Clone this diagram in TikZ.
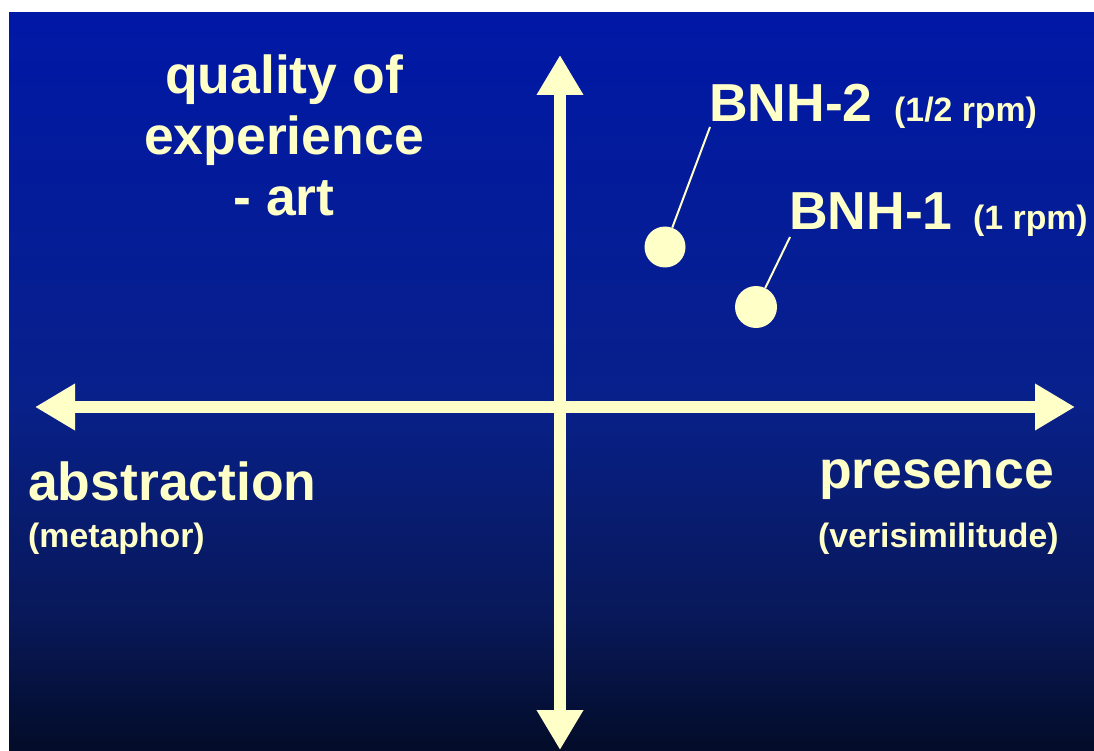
\documentclass[tikz,border=0pt]{standalone}
\usepackage{fontspec}
\setmainfont{Liberation Sans}
\usetikzlibrary{arrows.meta}
\definecolor{cream}{RGB}{255,255,200}
\definecolor{bgtop}{RGB}{0,24,166}
\definecolor{bgmid}{RGB}{8,32,138}
\definecolor{bglow}{RGB}{8,24,88}
\definecolor{bgbot}{RGB}{3,12,40}
\begin{document}
\begin{tikzpicture}[x=1pt,y=-1pt,
  axis/.style={draw=cream,line width=12.5pt,
    {Triangle[length=40pt,width=44pt]}-{Triangle[length=40pt,width=44pt]}},
  bigtext/.style={text=cream,font=\bfseries\fontsize{53.5}{61}\selectfont,inner sep=0pt},
  smalltext/.style={text=cream,font=\bfseries\fontsize{33.8}{38}\selectfont,inner sep=0pt},
  dot/.style={circle,fill=cream,inner sep=0pt,minimum size=#1},
  leader/.style={draw=cream,line width=2pt}]
\useasboundingbox (0,0) rectangle (1094,751);
% white frame and the blue backdrop, darkening downwards
\fill[white] (0,0) rectangle (1094,751);
\shade[top color=bgtop,bottom color=bgmid] (9,13) rectangle (1094,400.5);
\shade[top color=bgmid,bottom color=bglow] (9,400) rectangle (1094,620.5);
\shade[top color=bglow,bottom color=bgbot] (9,620) rectangle (1094,751);

% axes
\coordinate (top) at (560,55);
\coordinate (bottom) at (560,750);
\coordinate (left) at (35,407);
\coordinate (right) at (1075,407);
\draw[axis] (left) -- (right);
\draw[axis] (top) -- (bottom);

% axis labels
\node[bigtext,align=center,anchor=north] (quality) at (284,55)
  {quality of\\experience\\- art};
\node[bigtext,anchor=base west] (abstraction) at (28,500) {abstraction};
\node[smalltext,anchor=base west] (metaphor) at (28,547) {(metaphor)};
\node[bigtext,anchor=base west] (presence) at (819,488) {presence};
\node[smalltext,anchor=base west] (verisim) at (818,547) {(verisimilitude)};

% data points
\node[dot=41pt] (p2) at (665,247) {};
\node[dot=42pt] (p1) at (756,307) {};
\node[bigtext,anchor=base west] (l2) at (709,122) {BNH-2};
\node[smalltext,anchor=base west] (r2) at (894,122) {(1/2 rpm)};
\node[bigtext,anchor=base west] (l1) at (789,230) {BNH-1};
\node[smalltext,anchor=base west] (r1) at (973,230) {(1 rpm)};
\draw[leader] (p2) -- ([shift={(1pt,-5pt)}]l2.base west);
\draw[leader] (p1) -- ([shift={(1pt,-7pt)}]l1.base west);
\end{tikzpicture}
\end{document}
